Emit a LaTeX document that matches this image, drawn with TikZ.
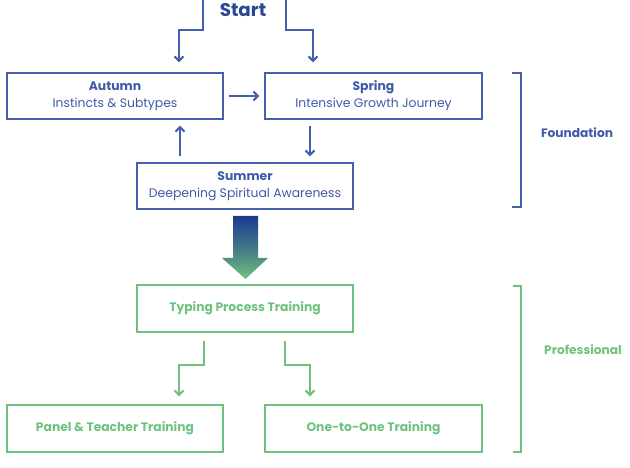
\documentclass[tikz,border=0pt]{standalone}
\usepackage{fontspec}
\setmainfont{Poppins}
\usetikzlibrary{arrows.meta}
\definecolor{bl}{HTML}{4560AC}
\definecolor{bltxt}{HTML}{3F58A8}
\definecolor{bldark}{HTML}{2B4597}
\definecolor{gr}{HTML}{6FC27D}
\definecolor{grtop}{HTML}{1C3A8E}
\tikzset{
  box/.style={draw, line width=1.4pt, minimum width=216pt, minimum height=46pt, inner sep=0pt, align=center, font=\fontsize{12.4}{17}\selectfont},
  bbox/.style={box, draw=bl, text=bltxt},
  gbox/.style={box, draw=gr, text=gr, font=\fontsize{12.3}{17}\selectfont\bfseries},
  barr/.style={draw=bl, line width=2.2pt, -{Straight Barb[length=4.5pt,width=9pt,line width=2pt]}},
  garr/.style={draw=gr, line width=2.2pt, -{Straight Barb[length=4.5pt,width=9pt,line width=2pt]}},
  brk/.style={line width=2.6pt},
  lbl/.style={font=\fontsize{12.2}{14}\selectfont\bfseries}
}
\begin{document}
\begin{tikzpicture}[x=1pt,y=-1pt]
\useasboundingbox (0,0) rectangle (630,468);
% nodes
\node[font=\fontsize{18.3}{20}\selectfont\bfseries, text=bldark] (start) at (243,10) {Start};
\node[bbox] (aut) at (115,96) {\textbf{Autumn}\\Instincts \& Subtypes};
\node[bbox, minimum width=217pt] (spr) at (373.5,96) {\textbf{Spring}\\Intensive Growth Journey};
\node[bbox] (sum) at (245,186) {\textbf{Summer}\\Deepening Spiritual Awareness};
\node[gbox, minimum height=47pt] (typ) at (245,308.5) {Typing Process Training};
\node[gbox, minimum height=47pt] (pan) at (115,428.5) {Panel \& Teacher Training};
\node[gbox, minimum height=47pt, minimum width=217pt] (one) at (373.5,428.5) {One-to-One Training};
\node[lbl, text=bltxt] (fnd) at (577,133) {Foundation};
\node[lbl, text=gr] (pro) at (583,350) {Professional};
% start connectors
\coordinate (sl) at (203,0);
\coordinate (al) at (179,30);
\coordinate (sr) at (286,0);
\coordinate (ar) at (313,30);
\draw[barr, shorten >=10pt] (sl) |- (al) -- (al |- aut.north);
\draw[barr, shorten >=10pt] (sr) |- (ar) -- (ar |- spr.north);
% cycle
\draw[barr, shorten <=5pt, shorten >=5pt] (aut.east) -- (spr.west);
\coordinate (c1) at (180,0);
\coordinate (c2) at (310,0);
\draw[barr, shorten <=6pt, shorten >=6pt] (sum.north -| c1) -- (aut.south -| c1);
\draw[barr, shorten <=6pt, shorten >=6pt] (spr.south -| c2) -- (sum.north -| c2);
% big gradient arrow
\shade[top color=grtop, bottom color=gr, middle color=grtop!55!gr]
  (233,216) -- (258,216) -- (258,258) -- (268,258) -- (245.5,279) -- (222,258) -- (233,258) -- cycle;
% lower connectors
\coordinate (tl) at (204,0);
\coordinate (ml) at (179,365);
\coordinate (tr) at (285,0);
\coordinate (mr) at (310,365);
\draw[garr, shorten <=8pt, shorten >=8pt] (typ.south -| tl) |- (ml) -- (ml |- pan.north);
\draw[garr, shorten <=8pt, shorten >=8pt] (typ.south -| tr) |- (mr) -- (mr |- one.north);
% brackets
\draw[brk, draw=bl] (512,73) -- (521,73) -- (521,207) -- (512,207);
\draw[brk, draw=gr] (513,286) -- (521,286) -- (521,452) -- (513,452);
\end{tikzpicture}
\end{document}
